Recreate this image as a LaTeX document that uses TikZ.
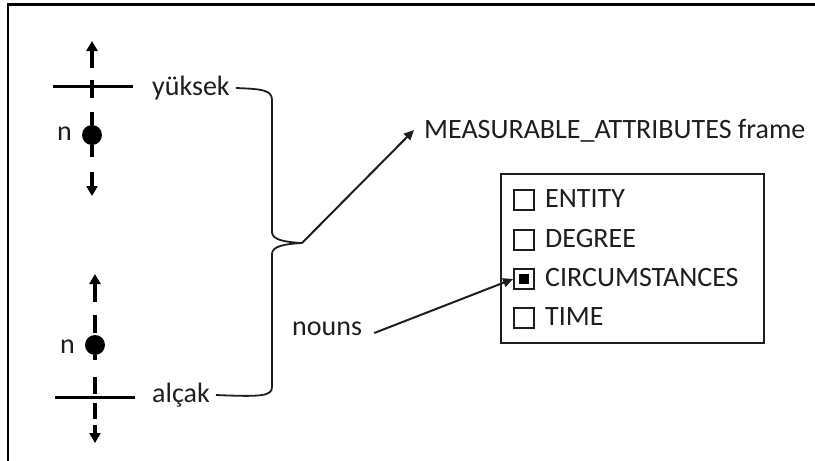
\documentclass[tikz,border=0pt]{standalone}
\usepackage{fontspec}
\setmainfont{Carlito}
\usetikzlibrary{arrows.meta,calc}
\definecolor{ink}{HTML}{1E1E1E}
\tikzset{
  lbl/.style={inner sep=0pt, text=ink, font=\fontsize{28}{32}\selectfont},
  axisline/.style={line width=3.2pt, black},
  tipline/.style={line width=3.2pt, black, -{Triangle[length=10pt,width=11pt]}},
  bar/.style={line width=3pt, black},
  bracket/.style={line width=1.8pt, ink, line join=round},
  pointer/.style={line width=2pt, ink, -{Triangle[length=10pt,width=9pt]}},
  cbox/.style={draw=ink, line width=1.8pt, minimum size=20pt, inner sep=0pt},
  mark dot/.style={circle, fill=black, inner sep=0pt, minimum width=19pt, minimum height=20pt}
}
\begin{document}
\begin{tikzpicture}[x=1pt,y=-1pt]
\useasboundingbox (0,0) rectangle (815,461);
% outer frame (top and left edges)
\draw[line width=2.5pt] (8,461) -- (8,4.5) -- (815,4.5);

% ---- upper scale: yüksek ----
\coordinate (u1) at (92,68);
\coordinate (u0) at (92,41);
\draw[tipline] (u1) -- (u0);
\coordinate (ubl) at (53,86);
\coordinate (ubr) at (133,86);
\draw[bar] (ubl) -- (ubr);
\draw[axisline] (92,80) -- (92,98);
\node[mark dot] (ndot1) at (92,135) {};
\draw[axisline] (92,112) -- (ndot1.north);
\draw[axisline] (ndot1.south) -- (92,157);
\coordinate (u2) at (92,172);
\coordinate (u3) at (92,196);
\draw[tipline] (u2) -- (u3);
\node[lbl, anchor=east] (n1) at (72,134) {n};
\node[lbl, anchor=west] (yuk) at (152,88) {yüksek};

% ---- lower scale: alçak ----
\coordinate (l1) at (95,302);
\coordinate (l0) at (95,274);
\draw[tipline] (l1) -- (l0);
\draw[axisline] (95,315) -- (95,333);
\node[mark dot] (ndot2) at (95,345) {};
\draw[axisline] (ndot2.south) -- (95,360);
\draw[axisline] (95,377) -- (95,394);
\coordinate (lbl1) at (55,397);
\coordinate (lbr) at (135,397);
\draw[bar] (lbl1) -- (lbr);
\draw[axisline] (95,403) -- (95,419);
\coordinate (l2) at (95,425);
\coordinate (l3) at (95,443);
\draw[tipline] (l2) -- (l3);
\node[lbl, anchor=east] (n2) at (75,347) {n};
\node[lbl, anchor=west] (alc) at (152,395) {alçak};

% ---- bracket joining both adjectives ----
\coordinate (cusp) at (302,243);
\draw[bracket] ([xshift=6pt]yuk.east) .. controls (262,89) and (272,90) .. (272,100)
  -- (272,232) .. controls (272,240) and (285,242) .. (cusp)
  .. controls (285,244) and (272,246) .. (272,254)
  -- (272,387) .. controls (272,396) and (262,397) .. ([xshift=6pt]alc.east);

% ---- frame label ----
\node[lbl, anchor=west] (meas) at (424,131) {MEASURABLE\_ATTRIBUTES frame};
\draw[pointer] (cusp) -- ([xshift=-10pt,yshift=1pt]meas.west);

% ---- slot box ----
\node[draw=ink, line width=2pt, minimum width=263pt, minimum height=169pt, inner sep=0pt] (slots) at (632.5,258.5) {};
\node[cbox] (cb1) at (524,200) {};
\node[cbox] (cb2) at (524,240) {};
\node[cbox] (cb3) at (524,279) {};
\node[cbox] (cb4) at (524,318) {};
\fill[black] ($(cb3.center)+(-5,-5)$) rectangle ($(cb3.center)+(5,5)$);
\node[lbl, anchor=west] (s1) at (545,199) {ENTITY};
\node[lbl, anchor=west] (s2) at (545,239) {DEGREE};
\node[lbl, anchor=west] (s3) at (545,278) {CIRCUMSTANCES};
\node[lbl, anchor=west] (s4) at (545,317) {TIME};

% ---- nouns pointer ----
\node[lbl, anchor=west] (nouns) at (292,329) {nouns};
\draw[pointer] ([xshift=12pt,yshift=-4pt]nouns.east) -- (cb3.west);
\end{tikzpicture}
\end{document}
